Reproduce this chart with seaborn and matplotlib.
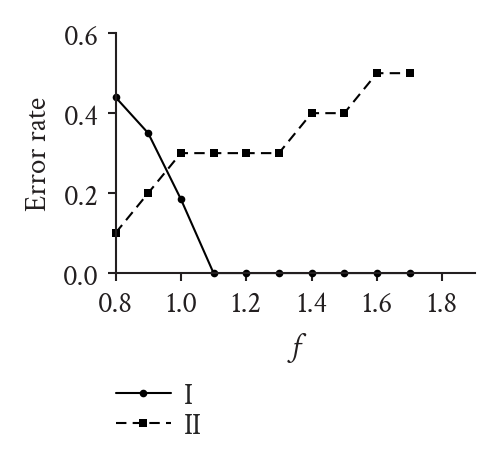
import matplotlib
matplotlib.use("Agg")
import matplotlib.pyplot as plt
import seaborn as sns
import pandas as pd

f_vals = [0.8, 0.9, 1.0, 1.1, 1.2, 1.3, 1.4, 1.5, 1.6, 1.7]
series_I = [0.44, 0.35, 0.185, 0.0, 0.0, 0.0, 0.0, 0.0, 0.0, 0.0]
series_II = [0.10, 0.20, 0.30, 0.30, 0.30, 0.30, 0.40, 0.40, 0.50, 0.50]
x_ticks = [0.8, 1.0, 1.2, 1.4, 1.6, 1.8]
y_ticks = [0.0, 0.2, 0.4, 0.6]

df = pd.DataFrame({
    "f": f_vals + f_vals,
    "Error rate": series_I + series_II,
    "series": ["I"] * len(f_vals) + ["II"] * len(f_vals),
})

sns.set_style("ticks")
plt.rcParams["font.family"] = ["Crimson Text", "Liberation Serif", "DejaVu Serif"]

fig = plt.figure(figsize=(5.0, 4.56), dpi=100)
ax = fig.add_axes([0.231, 0.399, 0.719, 0.526])

sns.lineplot(
    data=df, x="f", y="Error rate", style="series",
    markers={"I": "o", "II": "s"},
    dashes={"I": "", "II": (5, 3)},
    color="black", linewidth=1.5, markersize=5.5, markeredgewidth=0,
    ax=ax, clip_on=False,
)

ax.set_xlim(0.8, 1.9)
ax.set_ylim(0.0, 0.6)
ax.set_xticks(x_ticks)
ax.set_yticks(y_ticks)
ax.set_xticklabels([f"{v:.1f}" for v in x_ticks])
ax.set_yticklabels([f"{v:.1f}" for v in y_ticks])
for s in ["top", "right"]:
    ax.spines[s].set_visible(False)
for s in ["left", "bottom"]:
    ax.spines[s].set_linewidth(1.5)
    ax.spines[s].set_color("#231f20")
ax.tick_params(axis="both", direction="out", length=6, width=1.5,
               labelsize=21, colors="#231f20", pad=6)
ax.set_xlabel("f", fontsize=23, style="italic", labelpad=10, color="#231f20")
ax.set_ylabel("Error rate", fontsize=21, labelpad=7, color="#231f20")

handles, labels = ax.get_legend_handles_labels()
ax.legend(handles, labels, loc="upper left", bbox_to_anchor=(0.208, 0.185),
          bbox_transform=fig.transFigure, frameon=False, fontsize=21,
          handlelength=1.9, handletextpad=0.45, labelspacing=0.08,
          borderaxespad=0)

fig.savefig("out.png", dpi=100)
